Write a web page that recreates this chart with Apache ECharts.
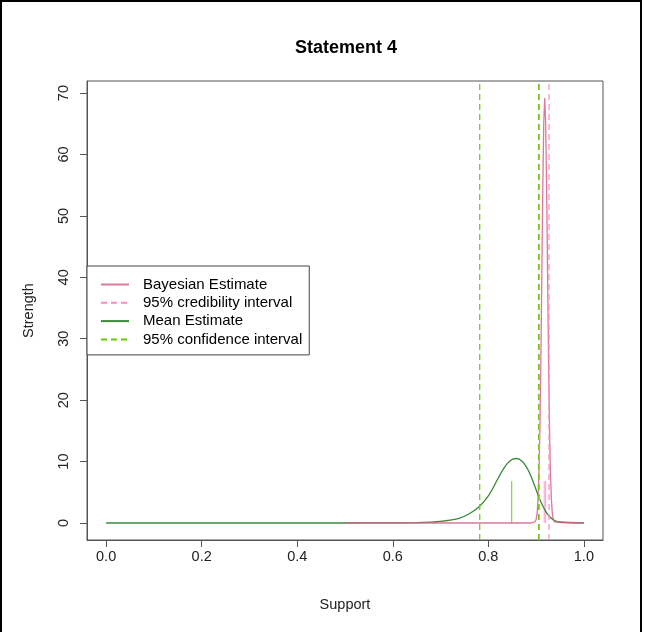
<!DOCTYPE html>
<html>
<head>
<meta charset="utf-8">
<script src="https://cdn.jsdelivr.net/npm/echarts@6/dist/echarts.min.js"></script>
<style>
  html, body { margin: 0; padding: 0; background: #ffffff; }
  #frame { position: absolute; left: 0; top: 0; width: 638px; height: 640px;
           border: 2px solid #000; border-bottom: none; box-sizing: content-box; pointer-events: none; }
  #chart { position: absolute; left: 0; top: 0; width: 645px; height: 632px; }
</style>
</head>
<body>
<div id="chart"></div>
<div id="frame"></div>
<script>
// Mean (frequentist) density curve
const meanCurveX = [0, 0.5, 0.6, 0.65, 0.68, 0.70, 0.72, 0.74, 0.76, 0.78, 0.80, 0.82, 0.83, 0.84, 0.85, 0.86, 0.87, 0.88, 0.89, 0.90, 0.91, 0.92, 0.93, 0.94, 0.95, 0.97, 1.0];
const meanCurveY = [0, 0, 0.02, 0.06, 0.14, 0.25, 0.45, 0.8, 1.5, 2.6, 4.4, 7.2, 8.6, 9.7, 10.35, 10.5, 10.1, 9.1, 7.5, 5.4, 3.4, 1.9, 0.9, 0.35, 0.12, 0.02, 0];

// Bayesian posterior density curve
const bayesCurveX = [0.5, 0.89, 0.898, 0.900, 0.902, 0.904, 0.906, 0.908, 0.910, 0.912, 0.914, 0.916, 0.918, 0.920, 0.922, 0.924, 0.926, 0.928, 0.930, 0.932, 0.934, 0.936, 0.938, 0.942, 1.0];
const bayesCurveY = [0, 0, 0.2, 0.56, 1.5, 3.8, 8.1, 15.7, 26.7, 40.5, 54.5, 65.2, 69.2, 65.2, 54.5, 40.5, 26.7, 15.7, 8.1, 3.8, 1.5, 0.56, 0.2, 0, 0];

// Interval bounds
const credibleInterval = [0.907, 0.927];
const confidenceInterval = [0.782, 0.905];

// Point-estimate markers
const meanMarkerX = [0.849];
const bayesMarkerX = [0.917, 0.920];
const markerHeight = 6.8;

// Axis ticks and range
const xTicks = [0, 0.2, 0.4, 0.6, 0.8, 1.0];
const yTicks = [0, 10, 20, 30, 40, 50, 60, 70];
const xRange = [-0.04, 1.04];
const yRange = [-2.77, 71.97];

const pink = '#d4608c';
const pinkDash = '#ff88c4';
const green = '#3a8a3a';
const greenDash = '#66cc00';

const zip = (xs, ys) => xs.map((x, i) => [x, ys[i]]);
const markerSeries = (xs, color) => xs.map(x => ({
  type: 'line', symbol: 'none', silent: true, z: 1,
  lineStyle: { color: color, width: 1 },
  data: [[x, 0], [x, markerHeight]]
}));
// Full-height dashed verticals spanning the y range
const vlines = (name, values, color) => values.map(v => ({
  name: name, type: 'line', symbol: 'none', silent: true, z: 4,
  lineStyle: { color: color, width: 1.2, type: [6, 4] },
  itemStyle: { color: color },
  data: [[v, yRange[0]], [v, yRange[1]]]
}));

const chart = echarts.init(document.getElementById('chart'), null, { renderer: 'canvas' });
const axisColor = '#555';
const fontFamily = 'Liberation Sans, Arial, sans-serif';
const labelFont = { fontFamily: fontFamily, fontSize: 14.5, color: '#222' };

chart.setOption({
  animation: false,
  backgroundColor: '#ffffff',
  title: {
    text: 'Statement 4', left: 341, top: 34, textAlign: 'center',
    textStyle: { fontFamily: fontFamily, fontSize: 18, fontWeight: 'bold', color: '#000' }
  },
  grid: { left: 87, right: 42, top: 81, bottom: 92, show: true, borderColor: axisColor, borderWidth: 1, backgroundColor: 'transparent' },
  xAxis: {
    type: 'value', min: xRange[0], max: xRange[1],
    name: 'Support', nameLocation: 'middle', nameGap: 57,
    nameTextStyle: labelFont,
    axisLine: { show: true, onZero: false, lineStyle: { color: axisColor } },
    axisTick: { show: true, inside: false, length: 7, customValues: xTicks, lineStyle: { color: axisColor } },
    axisLabel: { ...labelFont, margin: 9, customValues: xTicks, formatter: v => v.toFixed(1) },
    splitLine: { show: false }
  },
  yAxis: {
    type: 'value', min: yRange[0], max: yRange[1],
    name: 'Strength', nameLocation: 'middle', nameGap: 51,
    nameTextStyle: labelFont,
    axisLine: { show: true, onZero: false, lineStyle: { color: axisColor } },
    axisTick: { show: true, inside: false, length: 7, customValues: yTicks, lineStyle: { color: axisColor } },
    axisLabel: { ...labelFont, margin: 16, rotate: 90, customValues: yTicks, formatter: v => String(v) },
    splitLine: { show: false }
  },
  legend: {
    orient: 'vertical', left: 87, top: 266,
    padding: [11, 7, 8, 13],
    itemWidth: 28, itemHeight: 14, itemGap: 3.3,
    itemStyle: { opacity: 0 },
    backgroundColor: '#ffffff', borderColor: '#444', borderWidth: 1,
    textStyle: { fontFamily: fontFamily, fontSize: 15, color: '#000', padding: [0, 0, 0, 9] },
    data: ['Bayesian Estimate', '95% credibility interval', 'Mean Estimate', '95% confidence interval'],
    selectedMode: false
  },
  series: [
    {
      name: 'Mean Estimate', type: 'line', symbol: 'none', smooth: 0.3, z: 2,
      lineStyle: { color: green, width: 1.3 }, itemStyle: { color: green },
      data: zip(meanCurveX, meanCurveY)
    },
    ...vlines('95% confidence interval', confidenceInterval, greenDash),
    ...markerSeries(meanMarkerX, greenDash),
    ...markerSeries(bayesMarkerX, '#ff9ccc'),
    {
      name: 'Bayesian Estimate', type: 'line', symbol: 'none', z: 3,
      lineStyle: { color: pink, width: 1.3, opacity: 0.85 }, itemStyle: { color: pink },
      data: zip(bayesCurveX, bayesCurveY)
    },
    ...vlines('95% credibility interval', credibleInterval, pinkDash)
  ]
});
</script>
</body>
</html>
